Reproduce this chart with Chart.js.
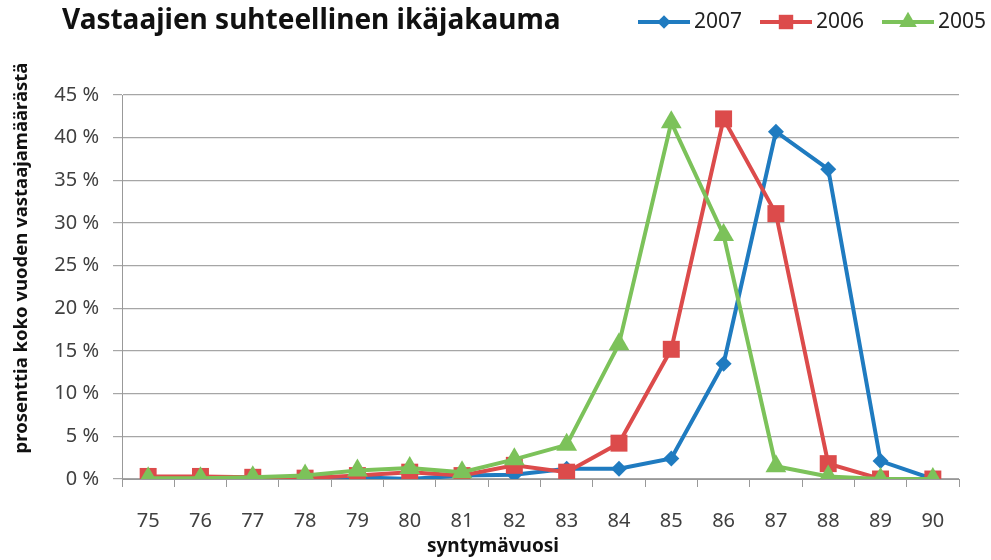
<!DOCTYPE html>
<html>
<head>
<meta charset="utf-8">
<script src="https://cdn.jsdelivr.net/npm/chart.js@4.4.1/dist/chart.umd.min.js"></script>
<style>
  html, body { margin: 0; padding: 0; background: #fff; }
  #wrap { width: 991px; height: 560px; }
</style>
</head>
<body>
<div id="wrap"><canvas id="chart" width="991" height="560"></canvas></div>
<script>
// birth years
const years = ['75', '76', '77', '78', '79', '80', '81', '82', '83', '84', '85', '86', '87', '88', '89', '90'];
// share of respondents (%) per survey year
const s2007 = [0.2, 0.2, 0.2, 0.2, 0.2, 0.0, 0.4, 0.5, 1.2, 1.2, 2.4, 13.5, 40.7, 36.3, 2.1, 0.0];
const s2006 = [0.3, 0.3, 0.2, 0.1, 0.4, 0.8, 0.4, 1.6, 0.8, 4.2, 15.2, 42.2, 31.1, 1.8, 0.0, 0.0];
const s2005 = [0.1, 0.1, 0.2, 0.4, 1.0, 1.3, 0.8, 2.3, 4.0, 15.8, 41.8, 28.6, 1.5, 0.3, 0.0, 0.0];
const yTicks = [0, 5, 10, 15, 20, 25, 30, 35, 40, 45];

const titleText = 'Vastaajien suhteellinen ikäjakauma';
const yTitle = 'prosenttia koko vuoden vastaajamäärästä';
const xTitle = 'syntymävuosi';

const FONT = "'Noto Sans', 'Open Sans', sans-serif";
const BLUE = '#1f7bc0', RED = '#dc4b4b', GREEN = '#7cc25a';

// title, axis titles and legend drawn by hand (legend shows line + marker like Excel)
const headerPlugin = {
  id: 'header',
  afterDraw(chart) {
    const ctx = chart.ctx;
    ctx.save();
    ctx.fillStyle = '#111';
    ctx.textBaseline = 'middle';
    ctx.font = 'bold 28px ' + FONT;
    ctx.fillText(titleText, 62, 21);

    ctx.font = 'bold 19px ' + FONT;
    ctx.textAlign = 'center';
    ctx.fillText(xTitle, 493, 547);

    ctx.save();
    ctx.translate(22, 258);
    ctx.rotate(-Math.PI / 2);
    ctx.font = 'bold 18.5px ' + FONT;
    ctx.fillText(yTitle, 0, 0);
    ctx.restore();
    ctx.textAlign = 'left';

    let x = 638;
    chart.data.datasets.forEach((ds) => {
      ctx.strokeStyle = ds.borderColor;
      ctx.lineWidth = 4;
      ctx.beginPath();
      ctx.moveTo(x, 22);
      ctx.lineTo(x + 52, 22);
      ctx.stroke();
      ctx.fillStyle = ds.backgroundColor;
      Chart.helpers.drawPoint(ctx, { pointStyle: ds.pointStyle, radius: ds.pointRadius * 0.85, borderWidth: 0, rotation: 0 }, x + 26, 22);
      ctx.fillStyle = '#222';
      ctx.font = '21px ' + FONT;
      ctx.fillText(ds.label, x + 56, 22);
      x += 122;
    });
    ctx.restore();
  }
};

function series(label, data, color, style, r, order) {
  return {
    label: label,
    data: data,
    order: order,
    borderColor: color,
    backgroundColor: color,
    borderWidth: 4,
    pointStyle: style,
    pointRadius: r,
    pointHoverRadius: r,
    pointBorderWidth: 0,
    tension: 0
  };
}

new Chart(document.getElementById('chart'), {
  type: 'line',
  data: {
    labels: years,
    datasets: [
      series('2007', s2007, BLUE, 'rectRot', 8, 2),
      series('2006', s2006, RED, 'rect', 12, 1),
      series('2005', s2005, GREEN, 'triangle', 12, 0)
    ]
  },
  options: {
    responsive: false,
    animation: false,
    devicePixelRatio: 1,
    layout: { padding: { top: 95, right: 32, left: 0, bottom: 0 } },
    plugins: {
      legend: { display: false },
      title: { display: false },
      tooltip: { enabled: false }
    },
    scales: {
      x: {
        offset: true,
        afterFit(scale) { scale.height = 81; },
        grid: { offset: true, drawOnChartArea: false, drawTicks: true, tickLength: 8, color: '#999' },
        border: { color: '#999', width: 1 },
        ticks: { color: '#404040', font: { size: 20, family: FONT }, padding: 22 }
      },
      y: {
        min: 0,
        max: 45,
        afterFit(scale) { scale.width = 122; },
        afterBuildTicks(scale) { scale.ticks = yTicks.map(v => ({ value: v })); },
        grid: { color: '#a6a6a6', lineWidth: 1.2, tickLength: 9 },
        border: { color: '#999', width: 1 },
        ticks: { color: '#404040', font: { size: 20, family: FONT }, padding: 14, callback: v => v + ' %' }
      }
    }
  },
  plugins: [headerPlugin]
});
</script>
</body>
</html>
